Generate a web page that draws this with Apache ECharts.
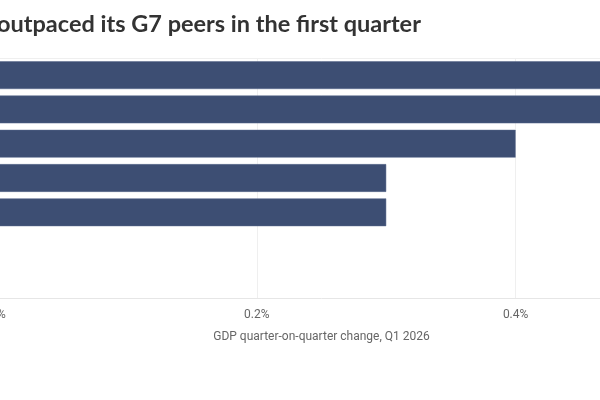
<!DOCTYPE html>
<html>
<head>
<meta charset="utf-8">
<script src="https://cdn.jsdelivr.net/npm/echarts@6/dist/echarts.min.js"></script>
<style>
html,body{margin:0;padding:0;width:600px;height:400px;overflow:hidden;background:#fff;}
#chart{position:absolute;left:-100px;top:0;width:800px;height:400px;}
</style>
</head>
<body>
<div id="chart"></div>
<script>
var categories = ['A', 'B', 'C', 'D', 'E', 'F', 'G'];
var values = [0.5, 0.5, 0.4, 0.3, 0.3, 0, 0];
var titleText = 'outpaced its G7 peers in the first quarter';
var axisTitle = 'GDP quarter-on-quarter change, Q1 2026';

var chart = echarts.init(document.getElementById('chart'), null, {renderer: 'canvas'});
chart.setOption({
  animation: false,
  backgroundColor: '#ffffff',
  title: {
    text: titleText,
    left: 92,
    top: 7,
    textStyle: {fontFamily: 'Lato', fontWeight: 'bold', fontSize: 23.5, color: '#333333'}
  },
  grid: {left: 98, right: 55, top: 58, bottom: 102, containLabel: false},
  xAxis: [{
    type: 'value',
    min: 0, max: 0.5, interval: 0.2,
    position: 'bottom',
    name: axisTitle,
    nameLocation: 'middle',
    nameGap: 33,
    nameTextStyle: {fontFamily: 'Roboto', fontSize: 12, color: '#666666'},
    axisLine: {show: true, lineStyle: {color: '#e6e6e6', width: 1}},
    axisTick: {show: false},
    axisLabel: {fontFamily: 'Roboto', fontSize: 12, color: '#666666', margin: 11,
      formatter: function (v) { return (Math.round(v * 10) / 10) + '%'; }},
    splitLine: {show: true, lineStyle: {color: '#efefef', width: 1}}
  }, {
    type: 'value',
    min: 0, max: 0.5, interval: 0.2,
    position: 'top',
    axisLine: {show: true, lineStyle: {color: '#efefef', width: 1}},
    axisTick: {show: false},
    axisLabel: {show: false},
    splitLine: {show: false}
  }],
  yAxis: {
    type: 'category',
    data: categories,
    inverse: true,
    axisLine: {show: false},
    axisTick: {show: false},
    axisLabel: {show: false},
    splitLine: {show: false}
  },
  series: [{
    type: 'bar',
    data: values,
    xAxisIndex: 0,
    barCategoryGap: '19%',
    itemStyle: {color: '#3d4e73', borderColor: '#56668a', borderWidth: 0.5}
  }]
});
</script>
</body>
</html>
